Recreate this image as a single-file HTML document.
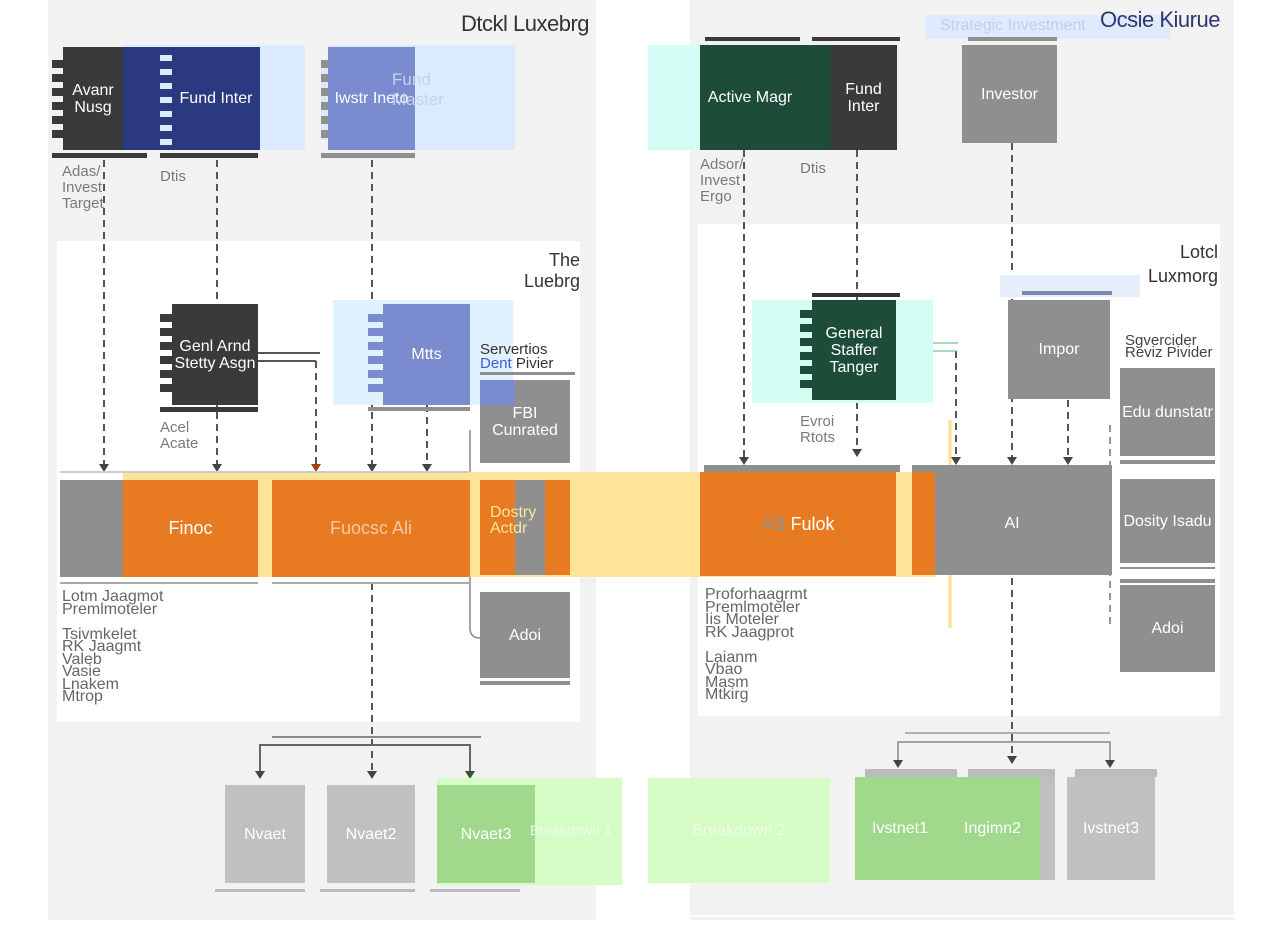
<!DOCTYPE html>
<html><head><meta charset="utf-8">
<style>
*{margin:0;padding:0;box-sizing:border-box}
body{width:1280px;height:925px;background:#fff;overflow:hidden;font-family:"Liberation Sans",sans-serif}
#c{position:relative;width:1280px;height:925px;background:#fff}
.b{position:absolute}
.t{position:absolute;color:#fff;font-size:16px;line-height:17px;text-align:center;display:flex;align-items:center;justify-content:center}
.lbl{position:absolute;color:#7a7a7a;font-size:15px;line-height:16px}
svg{position:absolute;left:0;top:0}
</style></head><body><div id="c">
<!-- panels -->
<div class="b" style="left:48px;top:0;width:548px;height:920px;background:#f2f2f2"></div>
<div class="b" style="left:690px;top:0;width:544px;height:920px;background:#f2f2f2"></div>
<div class="b" style="left:57px;top:241px;width:523px;height:481px;background:#fff"></div>
<div class="b" style="left:698px;top:224px;width:522px;height:492px;background:#fff"></div>
<div class="b" style="left:690px;top:915px;width:544px;height:2px;background:#fff"></div>

<!-- titles -->
<div class="b" style="left:461px;top:11px;width:140px;font-size:22px;color:#333;letter-spacing:-0.5px">Dtckl Luxebrg</div>
<div class="b" style="left:925px;top:15px;width:245px;height:24px;background:#dfeafd"></div>
<div class="b" style="left:940px;top:17px;font-size:16px;color:#bcd0f5">Strategic Investment</div>
<div class="b" style="left:1100px;top:7px;font-size:22px;color:#2b3a6e;letter-spacing:-0.5px">Ocsie Kiurue</div>

<svg width="1280" height="925">
<g stroke="#555" stroke-width="2" stroke-dasharray="7 5" fill="none">
<path d="M104 160V464"/><path d="M217 160V464"/><path d="M372 160V464"/><path d="M427 405V464"/>
<path d="M316 361V464"/>
<path d="M744 150V460"/><path d="M857 150V455"/><path d="M1012 143V460"/><path d="M1068 400V460"/>
<path d="M956 351V460"/>
<path d="M372 583V772"/>
<path d="M1012 578V756"/>
<path d="M1110 425V625" stroke="#777" stroke-width="1.5"/>
</g>
<g stroke="#555" stroke-width="2" fill="none">
<path d="M258 353H320"/><path d="M258 361H316"/>
<path d="M272 737H481" stroke="#888"/>
<path d="M260 772V745H470V772" stroke="#666"/>
<path d="M905 733H1110" stroke="#999" stroke-width="1.5"/>
<path d="M898 760V742H1110V760" stroke="#888" stroke-width="1.5"/>
</g>
<g stroke="#8fc9b0" stroke-width="1.5" fill="none"><path d="M896 343H958"/><path d="M896 351H956"/></g>
<path d="M470 430V628Q470 638 480 638" stroke="#888" stroke-width="1.5" fill="none"/>
<path d="M950 420V628" stroke="#ffe08a" stroke-width="3" fill="none"/>
<g fill="#444">
<path d="M99 464h10l-5 8z"/><path d="M212 464h10l-5 8z"/><path d="M367 464h10l-5 8z"/><path d="M422 464h10l-5 8z"/>
<path d="M311 464h10l-5 8z" fill="#a0400a"/>
<path d="M739 457h10l-5 8z"/><path d="M852 449h10l-5 8z"/><path d="M951 457h10l-5 8z"/><path d="M1007 457h10l-5 8z"/><path d="M1063 457h10l-5 8z"/>
<path d="M367 771h10l-5 8z"/><path d="M255 771h10l-5 8z"/><path d="M465 771h10l-5 8z" fill="#2f5a2a"/>
<path d="M893 760h10l-5 8z"/><path d="M1007 756h10l-5 8z"/><path d="M1105 760h10l-5 8z"/>
</g>
</svg>

<!-- top-left nodes -->
<div class="b" style="left:123px;top:45px;width:182px;height:105px;background:#dbeafe"></div>
<div class="t" style="left:63px;top:47px;width:60px;height:103px;background:#3a3a3a">Avanr Nusg</div>
<div class="b" style="left:52px;top:60px;width:11px;height:80px;background:repeating-linear-gradient(#3a3a3a 0 8px,#f2f2f2 8px 14px)"></div>
<div class="b" style="left:123px;top:47px;width:37px;height:103px;background:#2b3a80"></div>
<div class="b" style="left:160px;top:47px;width:12px;height:103px;background:repeating-linear-gradient(#2b3a80 0 8px,#dbeafe 8px 14px)"></div>
<div class="t" style="left:172px;top:47px;width:88px;height:103px;background:#2b3a80">Fund Inter</div>
<div class="b" style="left:52px;top:153px;width:95px;height:5px;background:#3a3a3a"></div>
<div class="b" style="left:160px;top:153px;width:98px;height:5px;background:#3a3a3a"></div>
<div class="b" style="left:328px;top:45px;width:187px;height:105px;background:#dbeafe"></div>
<div class="t" style="left:328px;top:47px;width:87px;height:103px;background:#7b8bd0">Iwstr Ineto</div>
<div class="b" style="left:321px;top:60px;width:7px;height:80px;background:repeating-linear-gradient(#8f8f8f 0 8px,#dbeafe 8px 14px)"></div>
<div class="b" style="left:392px;top:70px;font-size:17px;color:#c3d3f0;line-height:20px">Fund<br>Master</div>
<div class="b" style="left:321px;top:153px;width:94px;height:5px;background:#8f8f8f"></div>
<div class="lbl" style="left:62px;top:164px">Adas/<br>Invest<br>Target</div>
<div class="lbl" style="left:160px;top:169px">Dtis</div>

<!-- top-right nodes -->
<div class="b" style="left:648px;top:45px;width:182px;height:105px;background:#d4fdf5"></div>
<div class="t" style="left:700px;top:45px;width:130px;height:105px;background:#1d4d38;padding-right:30px">Active Magr</div>
<div class="t" style="left:830px;top:45px;width:67px;height:105px;background:#3a3a3a">Fund Inter</div>
<div class="b" style="left:705px;top:37px;width:95px;height:4px;background:#3a3a3a"></div>
<div class="b" style="left:812px;top:37px;width:88px;height:4px;background:#3a3a3a"></div>
<div class="t" style="left:962px;top:45px;width:95px;height:98px;background:#8f8f8f">Investor</div>
<div class="b" style="left:968px;top:37px;width:89px;height:4px;background:#8f8f8f"></div>
<div class="lbl" style="left:700px;top:157px">Adsor/<br>Invest<br>Ergo</div>
<div class="lbl" style="left:800px;top:161px">Dtis</div>

<!-- middle left -->
<div class="b" style="left:500px;top:250px;width:80px;font-size:18px;color:#333;text-align:right;line-height:21px">The<br>Luebrg</div>
<div class="t" style="left:172px;top:304px;width:86px;height:101px;background:#3a3a3a;font-size:16px">Genl Arnd Stetty Asgn</div>
<div class="b" style="left:160px;top:314px;width:12px;height:84px;background:repeating-linear-gradient(#3a3a3a 0 8px,#fff 8px 14px)"></div>
<div class="b" style="left:160px;top:407px;width:98px;height:5px;background:#3a3a3a"></div>
<div class="lbl" style="left:160px;top:420px">Acel<br>Acate</div>
<div class="b" style="left:333px;top:300px;width:180px;height:105px;background:#e0f2fe"></div>
<div class="t" style="left:383px;top:304px;width:87px;height:101px;background:#7b8bd0">Mtts</div>
<div class="b" style="left:368px;top:314px;width:15px;height:84px;background:repeating-linear-gradient(#7b8bd0 0 8px,#e0f2fe 8px 14px)"></div>
<div class="b" style="left:368px;top:407px;width:102px;height:4px;background:#8f8f8f"></div>
<div class="b" style="left:480px;top:343px;font-size:15px;color:#333;line-height:14px">Servertios<br><span style="color:#3b5bdb">Dent</span> Pivier</div>
<div class="b" style="left:480px;top:372px;width:95px;height:3px;background:#8f8f8f"></div>
<div class="t" style="left:480px;top:380px;width:90px;height:83px;background:#8f8f8f">FBI Cunrated</div>
<div class="b" style="left:480px;top:380px;width:35px;height:25px;background:#7b8bd0"></div>
<div class="t" style="left:480px;top:592px;width:90px;height:86px;background:#8f8f8f">Adoi</div>
<div class="b" style="left:480px;top:681px;width:90px;height:4px;background:#8f8f8f"></div>

<!-- middle right -->
<div class="b" style="left:1000px;top:275px;width:140px;height:22px;background:#e6eefc"></div>
<div class="b" style="left:1120px;top:240px;width:98px;font-size:18px;color:#333;text-align:right;line-height:24px">Lotcl<br>Luxmorg</div>
<div class="b" style="left:752px;top:300px;width:181px;height:103px;background:#d4fdf5"></div>
<div class="t" style="left:812px;top:300px;width:84px;height:100px;background:#1d4d38;font-size:16px">General Staffer Tanger</div>
<div class="b" style="left:800px;top:310px;width:12px;height:84px;background:repeating-linear-gradient(#1d4d38 0 8px,#d4fdf5 8px 14px)"></div>
<div class="b" style="left:812px;top:293px;width:88px;height:4px;background:#333"></div>
<div class="lbl" style="left:800px;top:414px">Evroi<br>Rtots</div>
<div class="t" style="left:1008px;top:300px;width:102px;height:99px;background:#8f8f8f">Impor</div>
<div class="b" style="left:1022px;top:291px;width:90px;height:4px;background:#7b8bb0"></div>
<div class="b" style="left:1125px;top:335px;font-size:15px;color:#444;line-height:12px">Sgvercider<br>Reviz Pivider</div>
<div class="t" style="left:1120px;top:368px;width:95px;height:88px;background:#8f8f8f">Edu dunstatr</div>
<div class="b" style="left:1120px;top:460px;width:95px;height:4px;background:#8f8f8f"></div>
<div class="t" style="left:1120px;top:479px;width:95px;height:84px;background:#8f8f8f">Dosity Isadu</div>
<div class="b" style="left:1120px;top:567px;width:95px;height:2px;background:#8f8f8f"></div>
<div class="b" style="left:1120px;top:579px;width:95px;height:4px;background:#8f8f8f"></div>
<div class="t" style="left:1120px;top:585px;width:95px;height:87px;background:#8f8f8f">Adoi</div>

<!-- band -->
<div class="b" style="left:123px;top:472px;width:812px;height:105px;background:#ffe49a"></div>
<div class="b" style="left:60px;top:471px;width:410px;height:2px;background:#ccc"></div>
<div class="t" style="left:60px;top:480px;width:63px;height:97px;background:#8f8f8f"></div>
<div class="t" style="left:123px;top:480px;width:135px;height:97px;background:#e87b22;font-size:18px">Finoc</div>
<div class="t" style="left:272px;top:480px;width:198px;height:97px;background:#e87b22;font-size:18px;color:#f7c9a5">Fuocsc Ali</div>
<div class="t" style="left:480px;top:480px;width:35px;height:95px;background:#e87b22"></div>
<div class="b" style="left:515px;top:480px;width:30px;height:95px;background:#8f8f8f"></div>
<div class="b" style="left:545px;top:480px;width:25px;height:95px;background:#e87b22"></div>
<div class="b" style="left:490px;top:505px;font-size:16px;color:#ffe49a;line-height:16px">Dostry<br>Actdr</div>
<div class="b" style="left:704px;top:465px;width:196px;height:7px;background:#8f8f8f"></div>
<div class="t" style="left:700px;top:472px;width:196px;height:104px;background:#e87b22;font-size:18px"><span style="color:#8f8f8f">AB</span>&nbsp;Fulok</div>
<div class="b" style="left:912px;top:465px;width:200px;height:7px;background:#8f8f8f"></div>
<div class="t" style="left:912px;top:472px;width:200px;height:103px;background:#8f8f8f">AI</div>
<div class="b" style="left:912px;top:472px;width:23px;height:103px;background:#e87b22"></div>
<div class="b" style="left:60px;top:582px;width:198px;height:2px;background:#aaa"></div>
<div class="b" style="left:272px;top:582px;width:198px;height:2px;background:#aaa"></div>

<!-- lower texts -->
<div class="lbl" style="left:62px;top:591px;line-height:12.5px;color:#666;font-size:16px">Lotm Jaagmot<br>Premlmoteler<br><br>Tsivmkelet<br>RK Jaagmt<br>Valeb<br>Vasie<br>Lnakem<br>Mtrop</div>
<div class="lbl" style="left:705px;top:589px;line-height:12.5px;color:#666;font-size:16px">Proforhaagrmt<br>Premlmoteler<br>Iis Moteler<br>RK Jaagprot<br><br>Laianm<br>Vbao<br>Masm<br>Mtkirg</div>

<!-- bottom left -->
<div class="t" style="left:225px;top:785px;width:80px;height:98px;background:#c0c0c0">Nvaet</div>
<div class="t" style="left:327px;top:785px;width:88px;height:98px;background:#c0c0c0">Nvaet2</div>
<div class="b" style="left:437px;top:778px;width:185px;height:107px;background:#d4fcc4"></div>
<div class="t" style="left:437px;top:785px;width:98px;height:98px;background:#a0d88c">Nvaet3</div>
<div class="b" style="left:530px;top:822px;font-size:14px;color:#eefde8">Breakdown 1</div>
<div class="b" style="left:215px;top:889px;width:90px;height:3px;background:#bbb"></div>
<div class="b" style="left:320px;top:889px;width:95px;height:3px;background:#bbb"></div>
<div class="b" style="left:430px;top:889px;width:90px;height:3px;background:#bbb"></div>
<div class="t" style="left:648px;top:778px;width:182px;height:105px;background:#d4fcc4;font-size:16px;color:#eefde8">Breakdown 2</div>

<!-- bottom right -->
<div class="b" style="left:865px;top:769px;width:92px;height:8px;background:#bbb"></div>
<div class="b" style="left:968px;top:769px;width:87px;height:8px;background:#bbb"></div>
<div class="b" style="left:1075px;top:769px;width:82px;height:8px;background:#bbb"></div>
<div class="t" style="left:855px;top:777px;width:90px;height:103px;background:#a0d88c">Ivstnet1</div>
<div class="t" style="left:945px;top:777px;width:95px;height:103px;background:#a0d88c">Ingimn2</div>
<div class="b" style="left:1040px;top:777px;width:15px;height:103px;background:#c0c0c0"></div>
<div class="t" style="left:1067px;top:777px;width:88px;height:103px;background:#c0c0c0">Ivstnet3</div>
</div></body></html>
